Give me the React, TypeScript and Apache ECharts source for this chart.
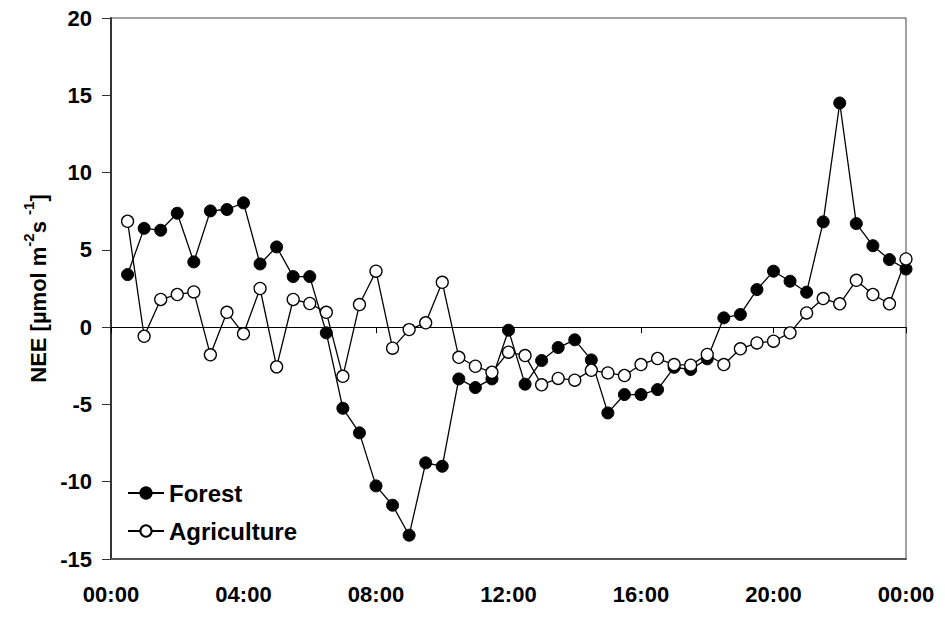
import React, { useEffect, useRef } from "react";
import * as echarts from "echarts";

// Time of day in hours (half-hourly)
const hours = [
  0.5, 1, 1.5, 2, 2.5, 3, 3.5, 4, 4.5, 5, 5.5, 6,
  6.5, 7, 7.5, 8, 8.5, 9, 9.5, 10, 10.5, 11, 11.5, 12,
  12.5, 13, 13.5, 14, 14.5, 15, 15.5, 16, 16.5, 17, 17.5, 18,
  18.5, 19, 19.5, 20, 20.5, 21, 21.5, 22, 22.5, 23, 23.5, 24,
];

const forest = [
  3.4, 6.39, 6.27, 7.37, 4.22, 7.52, 7.61, 8.04, 4.09, 5.19, 3.27, 3.27,
  -0.37, -5.25, -6.84, -10.27, -11.52, -13.46, -8.78, -9.0, -3.35, -3.91, -3.35, -0.2,
  -3.69, -2.16, -1.32, -0.82, -2.12, -5.55, -4.36, -4.36, -4.04, -2.6, -2.74, -2.05,
  0.6, 0.82, 2.43, 3.62, 2.97, 2.26, 6.81, 14.5, 6.7, 5.27, 4.37, 3.76,
];

const agriculture = [
  6.85, -0.59, 1.79, 2.11, 2.28, -1.79, 0.96, -0.43, 2.5, -2.57, 1.79, 1.53,
  0.96, -3.18, 1.46, 3.62, -1.36, -0.16, 0.28, 2.9, -1.95, -2.53, -2.92, -1.62,
  -1.84, -3.73, -3.32, -3.43, -2.79, -2.96, -3.13, -2.42, -2.03, -2.42, -2.46, -1.77,
  -2.42, -1.4, -1.02, -0.91, -0.37, 0.92, 1.85, 1.51, 3.03, 2.11, 1.51, 4.41,
];

const seriesNames = ["Forest", "Agriculture"];
const xTicks = [0, 4, 8, 12, 16, 20, 24];
const yTicks = [-15, -10, -5, 0, 5, 10, 15, 20];

const FONT = "'Liberation Sans', Arial, Helvetica, sans-serif";

export default function App() {
  const ref = useRef<HTMLDivElement>(null);

  useEffect(() => {
    if (!ref.current) return;
    const chart = echarts.init(ref.current, undefined, { renderer: "svg" });
    const toPairs = (vals: number[]) => hours.map((h, i) => [h, vals[i]]);
    const fmtHour = (v: number) => {
      const h = Math.round(v) % 24;
      return (h < 10 ? "0" : "") + h + ":00";
    };
    chart.setOption({
      animation: false,
      backgroundColor: "#ffffff",
      grid: {
        left: 111,
        right: 39,
        top: 18,
        bottom: 60,
        show: true,
        borderColor: "#444",
        borderWidth: 1,
        backgroundColor: "transparent",
      },
      legend: {
        orient: "vertical",
        left: 122,
        top: 476,
        itemWidth: 36,
        itemHeight: 14,
        itemGap: 14,
        data: seriesNames,
        textStyle: {
          fontFamily: FONT,
          fontWeight: "bold",
          fontSize: 24,
          lineHeight: 24,
          color: "#000",
        },
      },
      xAxis: [
        {
          type: "value",
          min: xTicks[0],
          max: xTicks[xTicks.length - 1],
          interval: 4,
          position: "bottom",
          axisLine: { onZero: false, lineStyle: { color: "#555", width: 2 } },
          axisTick: { show: false },
          splitLine: { show: false },
          axisLabel: {
            margin: 24,
            formatter: fmtHour,
            fontFamily: FONT,
            fontWeight: "bold",
            fontSize: 22,
            color: "#000",
          },
        },
        {
          type: "value",
          min: xTicks[0],
          max: xTicks[xTicks.length - 1],
          interval: 4,
          position: "bottom",
          axisLine: { show: true, onZero: true, lineStyle: { color: "#000", width: 1 } },
          axisTick: { show: true, inside: false, length: 6, lineStyle: { color: "#000", width: 1 } },
          axisLabel: { show: false },
          splitLine: { show: false },
        },
      ],
      yAxis: {
        type: "value",
        min: yTicks[0],
        max: yTicks[yTicks.length - 1],
        interval: 5,
        axisLine: { show: true, onZero: false, lineStyle: { color: "#333", width: 2 } },
        axisTick: { show: true, length: 9, lineStyle: { color: "#333", width: 1 } },
        splitLine: { show: false },
        axisLabel: {
          margin: 19,
          fontFamily: FONT,
          fontWeight: "bold",
          fontSize: 22,
          color: "#000",
        },
        name: "{m|NEE [µmol m}{s|-2}{m|s }{s|-1}{m|]}",
        nameLocation: "middle",
        nameRotate: 90,
        nameGap: 58,
        nameTextStyle: {
          fontFamily: FONT,
          fontWeight: "bold",
          fontSize: 22,
          color: "#000",
          rich: {
            m: {
              fontFamily: FONT,
              fontWeight: "bold",
              fontSize: 22,
              color: "#000",
              lineHeight: 28,
              verticalAlign: "bottom",
            },
            s: {
              fontFamily: FONT,
              fontWeight: "bold",
              fontSize: 15,
              color: "#000",
              lineHeight: 28,
              verticalAlign: "top",
            },
          },
        },
      },
      series: [
        {
          name: seriesNames[0],
          type: "line",
          xAxisIndex: 0,
          data: toPairs(forest),
          symbol: "circle",
          symbolSize: 12,
          z: 2,
          lineStyle: { color: "#000", width: 1.3 },
          itemStyle: { color: "#000", borderColor: "#000", borderWidth: 1 },
        },
        {
          name: seriesNames[1],
          type: "line",
          xAxisIndex: 0,
          data: toPairs(agriculture),
          symbol: "circle",
          symbolSize: 12,
          z: 3,
          lineStyle: { color: "#000", width: 1.3 },
          itemStyle: { color: "#fff", borderColor: "#000", borderWidth: 1.3 },
        },
      ],
    });
    return () => chart.dispose();
  }, []);

  return (
    <div
      ref={ref}
      style={{ position: "fixed", left: 0, top: 0, width: 945, height: 619, background: "#fff" }}
    />
  );
}
